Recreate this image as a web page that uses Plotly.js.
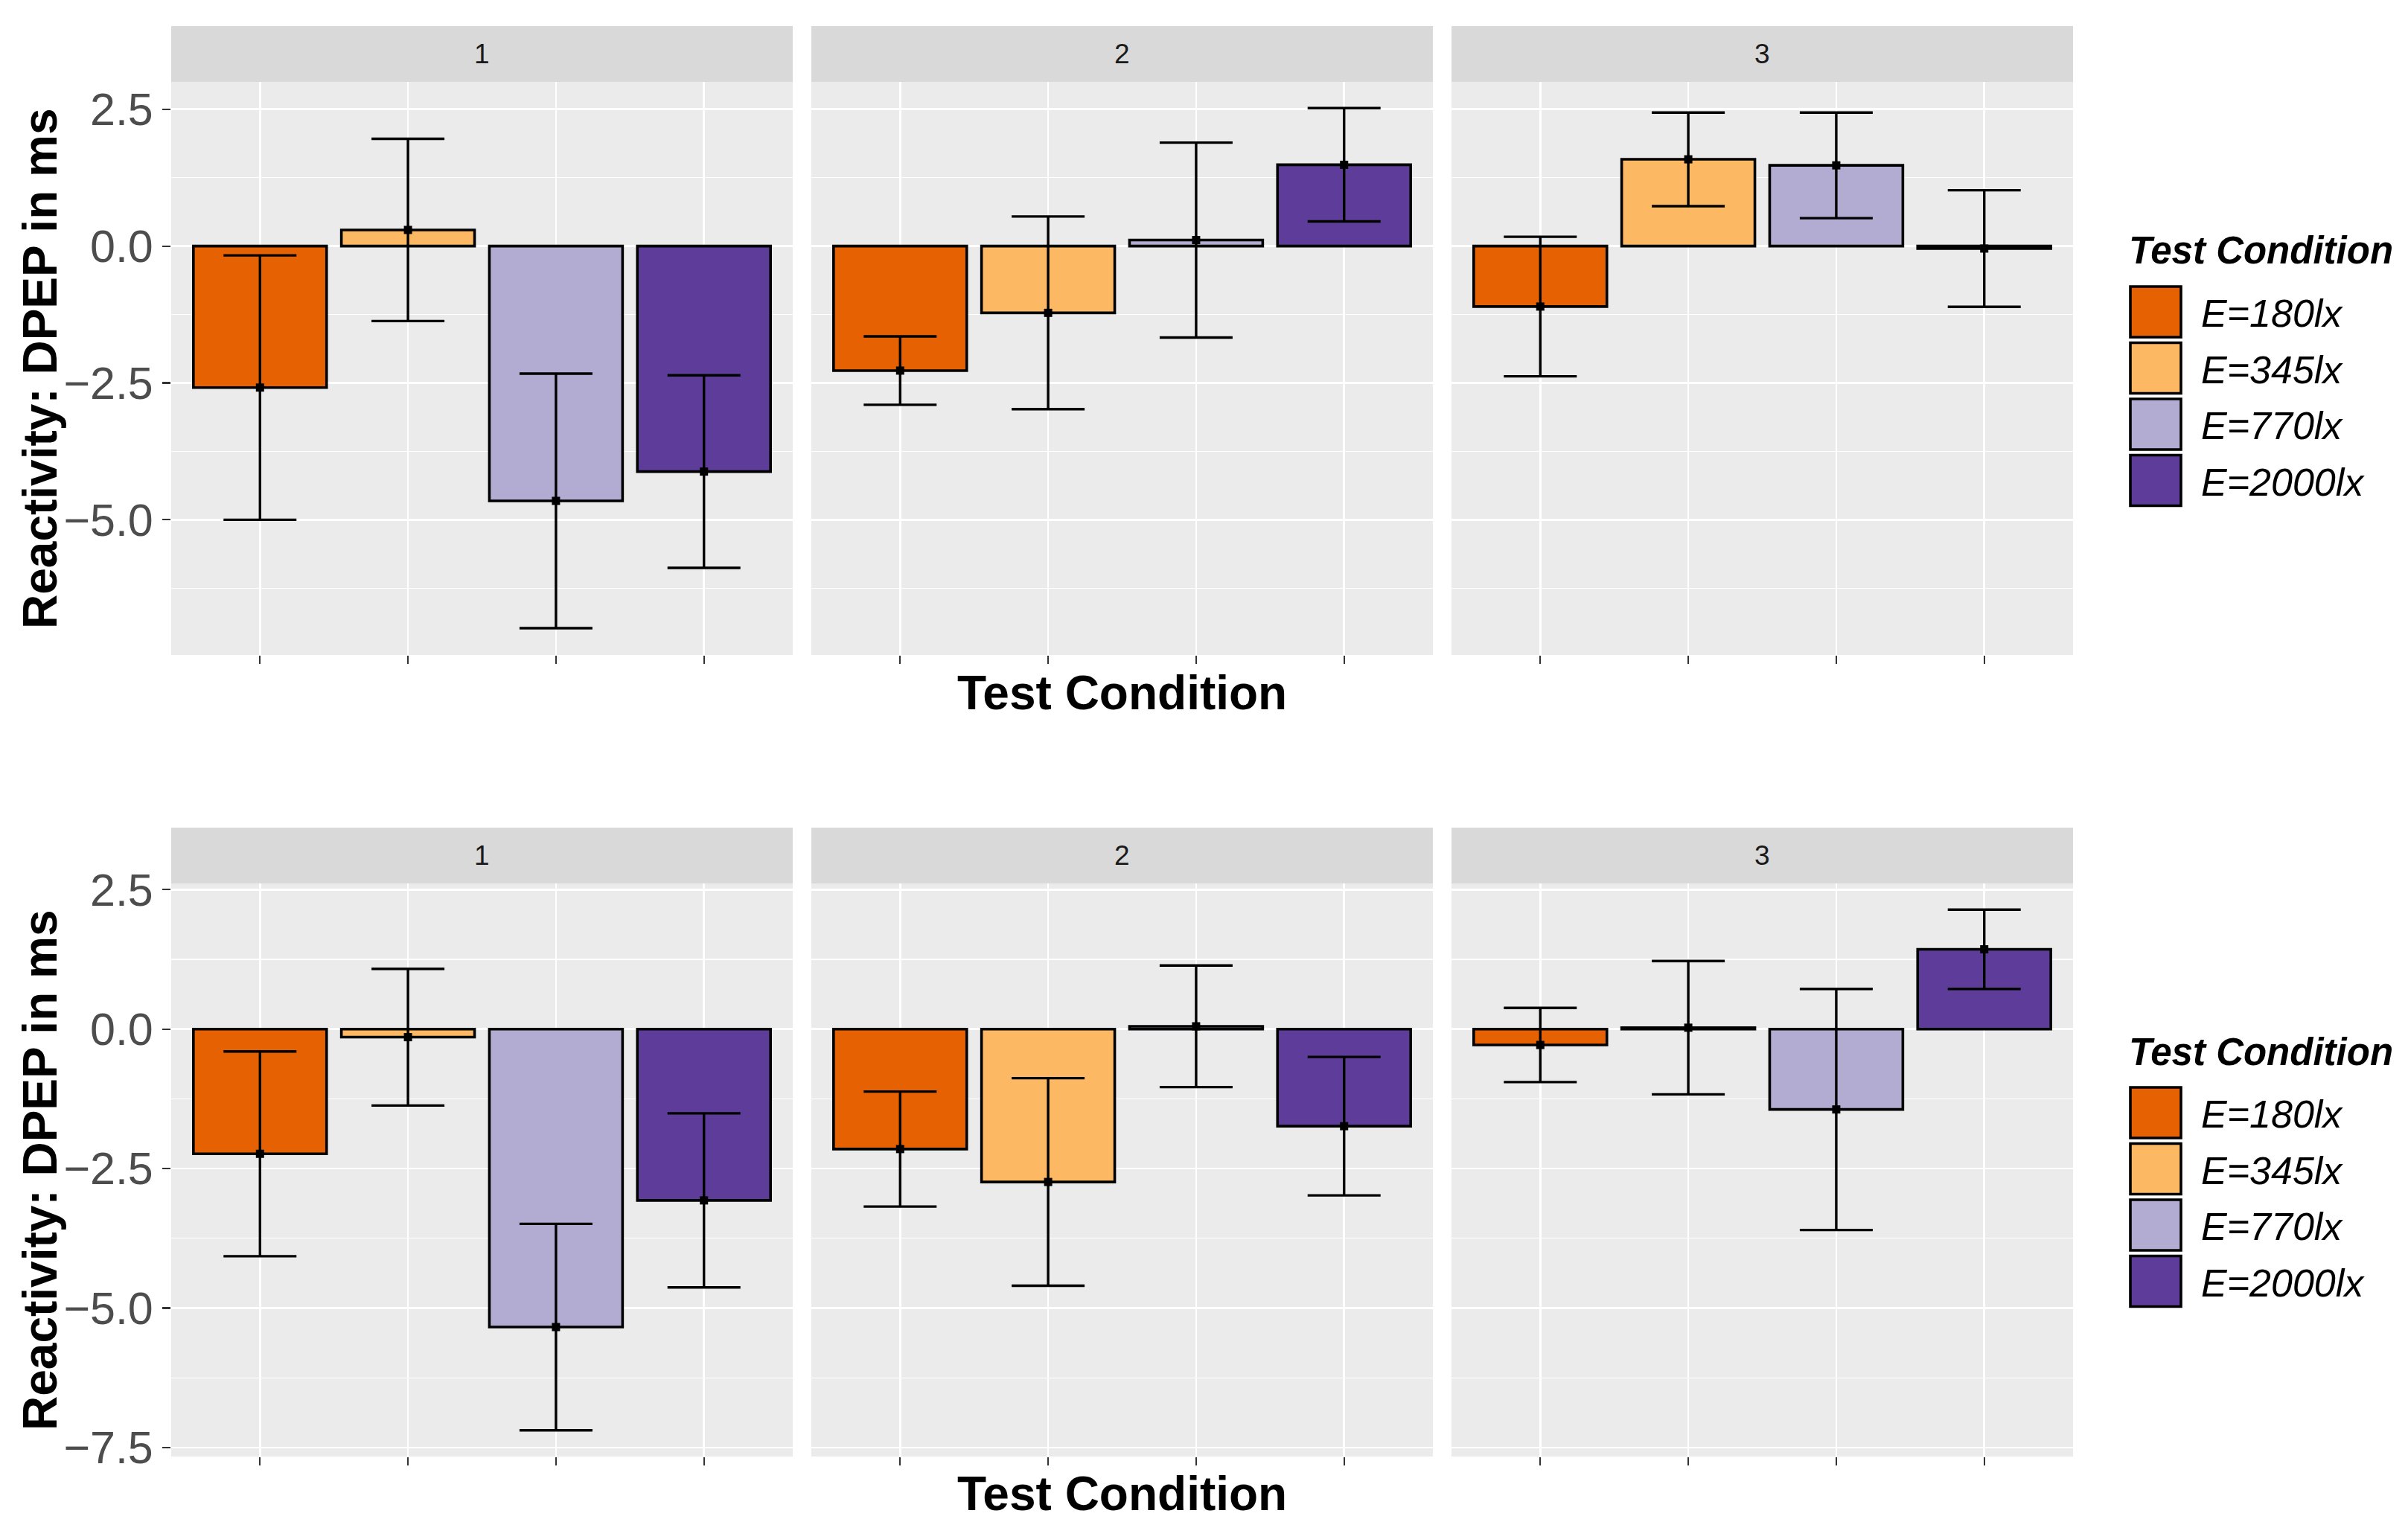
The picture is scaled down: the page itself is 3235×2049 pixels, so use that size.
<!DOCTYPE html>
<html><head><meta charset="utf-8">
<script src="https://cdn.plot.ly/plotly-3.0.1.min.js"></script>
<style>html,body{margin:0;padding:0;background:#fff}#chart{width:3235px;height:2049px}</style>
</head><body><div id="chart"></div>
<script>
// ---- data ----
const facets = ['1', '2', '3'];
const conditions = ['E=180lx', 'E=345lx', 'E=770lx', 'E=2000lx'];
const colors = ['#E66101', '#FDB863', '#B2ABD2', '#5E3C99'];
const positions = [1, 2, 3, 4];
const legendTitle = 'Test Condition';
const xTitle = 'Test Condition';
const yTitle = 'Reactivity: DPEP in ms';

// top row (means and error half-widths)
const top1Mean = [-2.585, 0.295, -4.655, -4.12];
const top1Err  = [2.415, 1.665, 2.325, 1.76];
const top2Mean = [-2.275, -1.22, 0.11, 1.485];
const top2Err  = [0.625, 1.76, 1.78, 1.035];
const top3Mean = [-1.105, 1.585, 1.475, -0.045];
const top3Err  = [1.275, 0.855, 0.965, 1.065];
// bottom row
const bot1Mean = [-2.235, -0.145, -5.34, -3.07];
const bot1Err  = [1.835, 1.225, 1.85, 1.56];
const bot2Mean = [-2.15, -2.74, 0.05, -1.74];
const bot2Err  = [1.03, 1.86, 1.09, 1.24];
const bot3Mean = [-0.285, 0.025, -1.44, 1.43];
const bot3Err  = [0.665, 1.195, 2.16, 0.71];

const rowMeans = [[top1Mean, top2Mean, top3Mean], [bot1Mean, bot2Mean, bot3Mean]];
const rowErrs  = [[top1Err, top2Err, top3Err], [bot1Err, bot2Err, bot3Err]];
const yRanges = [[-7.47, 3.0], [-7.66, 2.61]];

// ---- geometry (pixels) ----
const W = 3235, H = 2049;
const colPx = [[230, 1065], [1090, 1925], [1950, 2785]];
const rowPlotPx = [[110, 880], [1187, 1957]];
const rowStripPx = [[35, 110], [1112, 1187]];
const fx = p => p / W;
const fy = p => 1 - p / H;
const FONT = 'Liberation Sans, Arial, sans-serif';

const traces = [];
const layout = {
  width: W, height: H,
  margin: {l: 0, r: 0, t: 0, b: 0},
  paper_bgcolor: '#FFFFFF', plot_bgcolor: '#EBEBEB',
  showlegend: false,
  font: {family: FONT},
  shapes: [], annotations: []
};

for (let r = 0; r < 2; r++) {
  for (let c = 0; c < 3; c++) {
    const idx = r * 3 + c + 1;
    const sfx = idx > 1 ? String(idx) : '';
    const xa = 'x' + sfx, ya = 'y' + sfx;
    layout['xaxis' + sfx] = {
      domain: [fx(colPx[c][0]), fx(colPx[c][1])],
      anchor: ya, range: [0.4, 4.6],
      tickvals: positions, showticklabels: false,
      ticks: 'outside', ticklen: 11, tickwidth: 2.2, tickcolor: '#333333',
      showgrid: true, gridcolor: '#FFFFFF', gridwidth: 2.6,
      zeroline: false, showline: false, fixedrange: true
    };
    layout['yaxis' + sfx] = {
      domain: [fy(rowPlotPx[r][1]), fy(rowPlotPx[r][0])],
      anchor: xa, range: yRanges[r],
      tick0: 0, dtick: 2.5, tickformat: '.1f',
      showticklabels: c === 0,
      ticks: c === 0 ? 'outside' : '', ticklen: 11, tickwidth: 2.2, tickcolor: '#333333',
      tickfont: {family: FONT, size: 61, color: '#4D4D4D'},
      showgrid: true, gridcolor: '#FFFFFF', gridwidth: 2.6,
      minor: {dtick: 1.25, tick0: 0, showgrid: true, gridcolor: '#FFFFFF', gridwidth: 1.2, ticks: ''},
      zeroline: false, showline: false, fixedrange: true
    };
    const means = rowMeans[r][c], errs = rowErrs[r][c];
    traces.push({
      type: 'bar', x: positions, y: means, xaxis: xa, yaxis: ya,
      width: 0.9, marker: {color: colors, line: {color: '#000000', width: 3.6}},
      showlegend: false, hoverinfo: 'skip'
    });
    traces.push({
      type: 'scatter', mode: 'markers', x: positions, y: means, xaxis: xa, yaxis: ya,
      marker: {symbol: 'square', size: 11, color: '#000000'},
      error_y: {type: 'data', array: errs, visible: true, color: '#000000', thickness: 3.4, width: 49},
      showlegend: false, hoverinfo: 'skip'
    });
    // facet strip
    layout.shapes.push({
      type: 'rect', xref: 'paper', yref: 'paper', layer: 'below',
      x0: fx(colPx[c][0]), x1: fx(colPx[c][1]),
      y0: fy(rowStripPx[r][1]), y1: fy(rowStripPx[r][0]),
      fillcolor: '#D9D9D9', line: {width: 0}
    });
    layout.annotations.push({
      xref: 'paper', yref: 'paper', showarrow: false,
      x: fx((colPx[c][0] + colPx[c][1]) / 2), y: fy((rowStripPx[r][0] + rowStripPx[r][1]) / 2),
      xanchor: 'center', yanchor: 'middle',
      text: facets[c], font: {family: FONT, size: 37, color: '#1A1A1A'}
    });
  }
  // axis titles
  layout.annotations.push({
    xref: 'paper', yref: 'paper', showarrow: false,
    x: fx(54), y: fy((rowPlotPx[r][0] + rowPlotPx[r][1]) / 2),
    xanchor: 'center', yanchor: 'middle', textangle: -90,
    text: yTitle, font: {family: FONT, size: 64, color: '#000000', weight: 'bold'}
  });
  layout.annotations.push({
    xref: 'paper', yref: 'paper', showarrow: false,
    x: fx((colPx[0][0] + colPx[2][1]) / 2), y: fy(r === 0 ? 931 : 2007),
    xanchor: 'center', yanchor: 'middle',
    text: xTitle, font: {family: FONT, size: 64, color: '#000000', weight: 'bold'}
  });
  // legend (built from the series names and colours)
  const legTop = r === 0 ? 336 : 1413;
  const keyStart = r === 0 ? 385 : 1461;
  layout.annotations.push({
    xref: 'paper', yref: 'paper', showarrow: false,
    x: fx(2858), y: fy(legTop), xanchor: 'left', yanchor: 'middle',
    text: legendTitle, font: {family: FONT, size: 51, color: '#000000', weight: 'bold', style: 'italic'}
  });
  conditions.forEach((name, i) => {
    const y0 = keyStart + i * 75.5;
    layout.shapes.push({
      type: 'rect', xref: 'paper', yref: 'paper',
      x0: fx(2862), x1: fx(2930), y0: fy(y0 + 68), y1: fy(y0),
      fillcolor: colors[i], line: {color: '#000000', width: 3.6}
    });
    layout.annotations.push({
      xref: 'paper', yref: 'paper', showarrow: false,
      x: fx(2955), y: fy(y0 + 36), xanchor: 'left', yanchor: 'middle',
      text: name, font: {family: FONT, size: 52, color: '#000000', style: 'italic'}
    });
  });
}

Plotly.newPlot('chart', traces, layout, {staticPlot: true, displayModeBar: false});
</script>
</body></html>
